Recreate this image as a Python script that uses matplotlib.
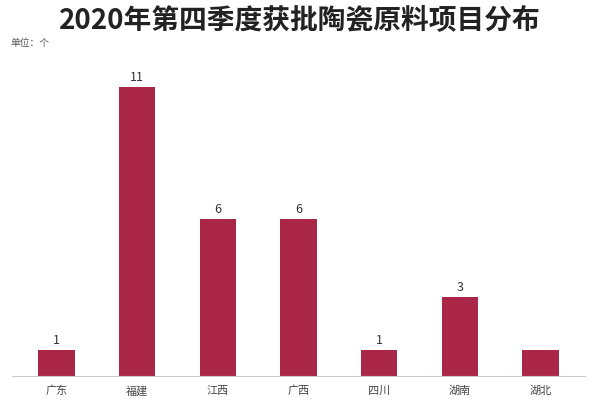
import matplotlib
matplotlib.use("Agg")
import matplotlib.pyplot as plt

plt.rcParams['font.family'] = ['Noto Sans CJK SC', 'DejaVu Sans']

categories = ['广东', '福建', '江西', '广西', '四川', '湖南', '湖北']
values = [1, 11, 6, 6, 1, 3, 1]

fig = plt.figure(figsize=(6, 4.1), dpi=100)
ax = fig.add_axes([0.02, 0.08, 0.955, 0.705])
x = list(range(len(categories)))
bars = ax.bar(x, values, width=0.45, color='#ab2748')
for i, v in enumerate(values):
    if i == 6:
        continue
    ax.text(i, v + 0.15, str(v), ha='center', va='bottom', fontsize=9, color='#333333',
            clip_on=False)
ax.set_xlim(-0.55, 6.55)
ax.set_ylim(0, 11)
ax.set_xticks(x)
ax.set_xticklabels(categories, fontsize=8, color='#444444')
ax.set_yticks([])
for s in ['top', 'right', 'left']:
    ax.spines[s].set_visible(False)
ax.spines['bottom'].set_color('#cccccc')
ax.tick_params(axis='x', length=0, pad=6)
fig.text(0.5, 0.95, '2020年第四季度获批陶瓷原料项目分布', ha='center', va='center',
         fontsize=20, fontweight='bold', color='#222222')
fig.text(0.018, 0.895, '单位：个', fontsize=7, color='#555555', va='center')
fig.savefig('out.png')
